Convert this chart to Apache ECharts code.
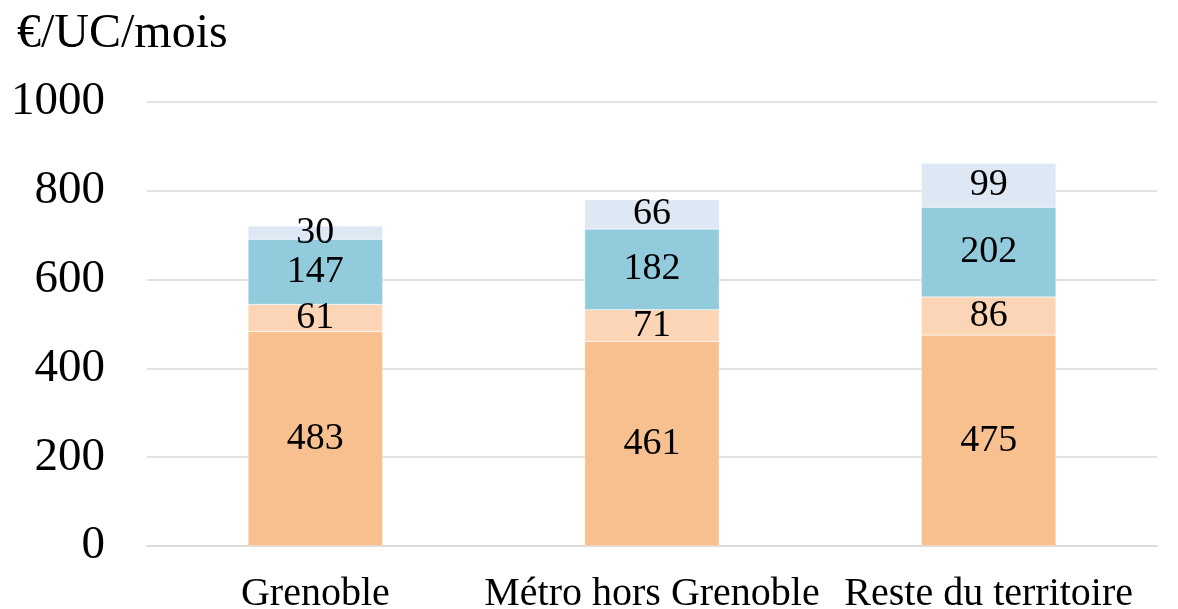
<!DOCTYPE html>
<html><head><meta charset="utf-8">
<script src="https://cdn.jsdelivr.net/npm/echarts@6/dist/echarts.min.js"></script>
<style>html,body{margin:0;padding:0;background:#fff}#c{width:1178px;height:609px}</style>
</head><body><div id="c"></div>
<script>
const categories = ['Grenoble', 'Métro hors Grenoble', 'Reste du territoire'];
const serie1 = [483, 461, 475];
const serie2 = [61, 71, 86];
const serie3 = [147, 182, 202];
const serie4 = [30, 66, 99];
const yTicks = [0, 200, 400, 600, 800, 1000];
const unitLabel = '€/UC/mois';

const FONT = '"Liberation Serif", "Times New Roman", serif';
const colors = ['#F9C08F', '#FBD5B5', '#92CCDC', '#DDE8F4'];
const seriesData = [serie1, serie2, serie3, serie4];
const names = ['Série 1', 'Série 2', 'Série 3', 'Série 4'];

const chart = echarts.init(document.getElementById('c'));
chart.setOption({
  animation: false,
  title: {
    text: unitLabel, left: 12, top: 5,
    textStyle: { fontFamily: FONT, fontSize: 48, fontWeight: 'normal', color: '#000' }
  },
  grid: { left: 147, right: 21, top: 102, bottom: 63, containLabel: false, outerBoundsMode: 'none' },
  xAxis: {
    type: 'category', data: categories,
    axisLine: { lineStyle: { color: '#d9d9d9', width: 1.5 } },
    axisTick: { show: false },
    axisLabel: { fontFamily: FONT, fontSize: 40, color: '#000', margin: 28, interval: 0, hideOverlap: false }
  },
  yAxis: {
    type: 'value', min: yTicks[0], max: yTicks[yTicks.length - 1], interval: 200,
    axisLine: { show: false }, axisTick: { show: false },
    splitLine: { lineStyle: { color: '#d9d9d9', width: 1.5 } },
    axisLabel: { fontFamily: FONT, fontSize: 47, color: '#000', margin: 42, formatter: v => String(v) }
  },
  series: seriesData.map((d, i) => ({
    name: names[i], type: 'bar', stack: 'total', data: d, barWidth: '40%',
    itemStyle: { color: colors[i], borderColor: 'rgba(255,255,255,0.6)', borderWidth: 0.5 },
    label: { show: true, position: 'inside', fontFamily: FONT, fontSize: 38, color: '#000' }
  }))
});
</script></body></html>
